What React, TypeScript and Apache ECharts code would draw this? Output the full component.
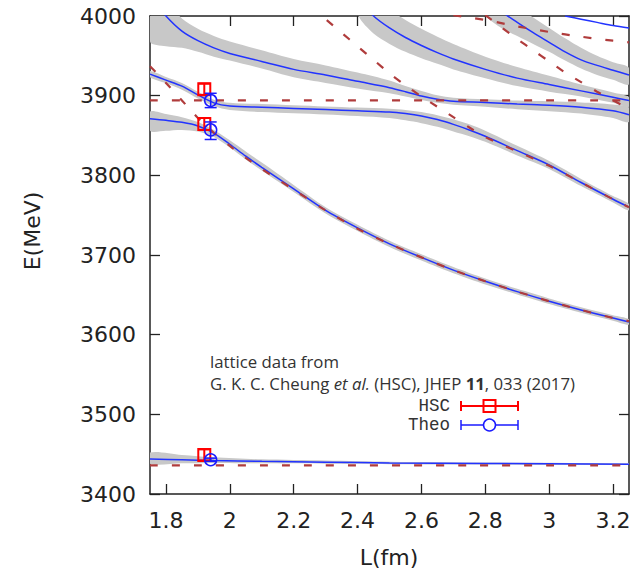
import React, { useEffect, useRef } from 'react';
import * as echarts from 'echarts';

// ---------- data (L in fm, E in MeV) ----------
const xTicks = [1.8, 2.0, 2.2, 2.4, 2.6, 2.8, 3.0, 3.2];

// interacting levels: [L, E, bandLow, bandHigh]
const levelG = [
  [1.75, 3444, 3438, 3452], [1.85, 3443, 3438.5, 3449], [1.95, 3442, 3439, 3446],
  [2.1, 3441, 3438.5, 3443.5], [2.3, 3440, 3438, 3442], [2.5, 3439, 3437.5, 3440.5],
  [2.8, 3438.3, 3437, 3439.5], [3.25, 3437.5, 3436.5, 3438.5],
];
const levelB = [
  [1.75, 3871, 3856, 3880], [1.8, 3869, 3856, 3877], [1.85, 3866.5, 3857, 3873],
  [1.9, 3862, 3855, 3867], [1.95, 3853, 3848, 3857], [2.0, 3839, 3835, 3844],
  [2.05, 3824, 3820, 3830], [2.1, 3810, 3806, 3816], [2.2, 3783, 3779, 3788],
  [2.3, 3756, 3752, 3760], [2.4, 3734, 3730, 3738], [2.5, 3714, 3710, 3718],
  [2.6, 3697, 3693, 3701], [2.7, 3681, 3677, 3685], [2.8, 3667, 3663, 3670.5],
  [2.9, 3654, 3650.5, 3657.5], [3.0, 3642, 3638.5, 3645.5], [3.1, 3631, 3627.5, 3634.5],
  [3.2, 3621, 3617.5, 3624.5], [3.25, 3616, 3612.5, 3619.5],
];
const levelA = [
  [1.75, 3927, 3923, 3931], [1.8, 3919.5, 3915.5, 3923.5], [1.85, 3912, 3907.5, 3916],
  [1.9, 3901, 3896.5, 3905], [1.95, 3891, 3887, 3895], [2.0, 3887, 3882, 3891],
  [2.1, 3885.5, 3879.5, 3889.5], [2.2, 3884, 3878, 3888], [2.3, 3882.5, 3876.5, 3886.5],
  [2.4, 3881, 3874.5, 3885], [2.5, 3879.5, 3872, 3883.5], [2.55, 3877.5, 3869, 3882],
  [2.6, 3874.5, 3865.5, 3879.5], [2.65, 3870, 3861, 3875.5], [2.7, 3864, 3855, 3870.5],
  [2.75, 3857, 3849, 3864], [2.8, 3849, 3842, 3856], [2.9, 3831, 3825, 3837],
  [3.0, 3813, 3808, 3818], [3.1, 3791, 3786.5, 3795.5], [3.2, 3770, 3766, 3774],
  [3.25, 3760, 3756, 3764],
];
const levelC = [
  [1.75, 4025, 3968, 4045], [1.8, 4000, 3962, 4020], [1.85, 3981, 3960, 3997],
  [1.9, 3969, 3955, 3984], [1.95, 3960, 3949, 3975], [2.0, 3953, 3944, 3968],
  [2.1, 3943, 3934, 3957], [2.2, 3933, 3923, 3946], [2.3, 3926, 3916, 3938],
  [2.4, 3918, 3909, 3929], [2.5, 3910, 3903, 3919], [2.55, 3905, 3899, 3912],
  [2.6, 3899.5, 3894.5, 3906], [2.65, 3895.5, 3891, 3900.5], [2.7, 3893, 3888.5, 3897.5],
  [2.8, 3891.5, 3886, 3895.5], [2.9, 3889.5, 3883, 3894], [3.0, 3888, 3880.5, 3893],
  [3.1, 3885.5, 3877.5, 3891.5], [3.2, 3881, 3872, 3889], [3.25, 3876, 3867, 3885],
];
const levelD = [
  [2.4, 4022, 4003, 4050], [2.45, 4000, 3978, 4024], [2.5, 3985, 3965, 4008],
  [2.55, 3973, 3955, 3995], [2.6, 3963, 3947, 3984], [2.65, 3954, 3940, 3974],
  [2.7, 3946, 3933, 3965], [2.8, 3933, 3922, 3949], [2.9, 3922, 3912, 3936],
  [3.0, 3914, 3905, 3925], [3.1, 3906, 3899, 3914], [3.2, 3898, 3891, 3904],
  [3.25, 3894, 3886, 3898],
];
const levelE = [
  [2.8, 4025, 4003, 4055], [2.85, 4006, 3985, 4030], [2.9, 3992, 3975, 4012],
  [2.95, 3979, 3965, 3998], [3.0, 3967, 3955, 3985], [3.05, 3955, 3944, 3972],
  [3.1, 3945, 3934, 3960], [3.15, 3938, 3926, 3950], [3.2, 3932, 3920, 3942],
  [3.25, 3926, 3914, 3935],
];
const levelF = [
  [3.05, 4000], [3.1, 3996], [3.15, 3992], [3.2, 3988], [3.25, 3985],
];

// non-interacting levels (dashed): [L, E]
const free1 = [
  [1.75, 3937], [1.8, 3916], [1.85, 3894], [1.9, 3872], [1.95, 3853.5], [2.0, 3837],
  [2.05, 3822], [2.1, 3808], [2.2, 3782], [2.3, 3756], [2.4, 3733], [2.5, 3714],
  [2.6, 3697], [2.7, 3681], [2.8, 3667], [2.9, 3654], [3.0, 3642], [3.1, 3631],
  [3.2, 3621], [3.25, 3617],
];
const free2 = [
  [2.25, 4012], [2.3, 3996], [2.35, 3979], [2.4, 3962], [2.45, 3945], [2.5, 3928],
  [2.55, 3913], [2.6, 3899], [2.65, 3886], [2.7, 3873], [2.75, 3860], [2.8, 3848],
  [2.9, 3830], [3.0, 3812], [3.1, 3791], [3.2, 3770], [3.25, 3760],
];
const free3 = [
  [2.7, 4001], [2.8, 3995], [2.9, 3987], [3.0, 3980], [3.1, 3974], [3.2, 3969], [3.25, 3967],
];
const free4 = [
  [2.8, 4001], [2.85, 3986], [2.9, 3971], [2.95, 3957], [3.0, 3943], [3.05, 3929],
  [3.1, 3917], [3.15, 3905], [3.2, 3894], [3.25, 3884],
];
const bareHigh = [[1.75, 3894], [3.25, 3894]];
const bareLow = [[1.75, 3436], [3.25, 3436]];

// lattice points: [L, E, low, high]
const hscPoints = [[1.92, 3908, 3901, 3915], [1.92, 3864.5, 3857, 3872], [1.92, 3449, 3442, 3456]];
const theoPoints = [[1.94, 3894, 3885, 3903], [1.94, 3857, 3845, 3867], [1.94, 3443, 3441, 3445]];

// legend labels
const legendNames = ['HSC', 'Theo'];

// ---------- styles ----------
const BLUE = '#2233ff';
const RED_DASH = '#b03c3c';
const GRAY = '#c8c8c8';
const AXIS = '#222';
const TXT = '#333';
const FONT = 'DejaVu Sans';
const NOTE_FONT = '"Open Sans", "DejaVu Sans", sans-serif';
const NOTE_SIZE = 16.8;

function band(pts: number[][]) {
  return {
    type: 'custom',
    clip: true,
    silent: true,
    z: 1,
    data: pts,
    encode: { x: 0, y: 1 },
    renderItem: (params: any, api: any) => {
      if (params.dataIndex !== 0) return null;
      const upper = pts.map((p) => api.coord([p[0], p[3]]));
      const lower = pts.map((p) => api.coord([p[0], p[2]])).reverse();
      return {
        type: 'polygon',
        shape: { points: upper.concat(lower), smooth: 0.3 },
        style: { fill: GRAY, stroke: 'none' },
      };
    },
  };
}

function solid(pts: number[][]) {
  return {
    type: 'line',
    data: pts.map((p) => [p[0], p[1]]),
    smooth: 0.3,
    showSymbol: false,
    symbol: 'none',
    silent: true,
    z: 2,
    lineStyle: { color: BLUE, width: 1.5 },
  };
}

function dashed(pts: number[][]) {
  return {
    type: 'line',
    data: pts,
    smooth: 0.3,
    showSymbol: false,
    symbol: 'none',
    silent: true,
    z: 3,
    lineStyle: { color: RED_DASH, width: 2.2, type: [8, 14] },
  };
}

function points(pts: number[][], kind: 'square' | 'circle') {
  const color = kind === 'square' ? '#ff0000' : '#1a1aff';
  const lw = kind === 'square' ? 2 : 1.5;
  return {
    type: 'custom',
    clip: true,
    silent: true,
    z: 5,
    data: pts,
    encode: { x: 0, y: 1 },
    renderItem: (params: any, api: any) => {
      const L = api.value(0);
      const c = api.coord([L, api.value(1)]);
      const lo = api.coord([L, api.value(2)]);
      const hi = api.coord([L, api.value(3)]);
      const st = { stroke: color, lineWidth: lw, fill: 'none' };
      const children: any[] = [
        { type: 'line', shape: { x1: c[0], y1: lo[1], x2: c[0], y2: hi[1] }, style: st },
        { type: 'line', shape: { x1: c[0] - 6, y1: lo[1], x2: c[0] + 6, y2: lo[1] }, style: st },
        { type: 'line', shape: { x1: c[0] - 6, y1: hi[1], x2: c[0] + 6, y2: hi[1] }, style: st },
      ];
      if (kind === 'square') {
        children.push({ type: 'rect', shape: { x: c[0] - 6, y: c[1] - 6, width: 12, height: 12 }, style: st });
      } else {
        children.push({ type: 'circle', shape: { cx: c[0], cy: c[1], r: 6 }, style: st });
      }
      return { type: 'group', children };
    },
  };
}

const axisLine = { show: true, onZero: false, lineStyle: { color: AXIS, width: 1.5 } };
const tickStyle = { color: AXIS, width: 1.3 };

const option: any = {
  animation: false,
  backgroundColor: '#fff',
  grid: { left: 150, right: 7, top: 16, bottom: 81, containLabel: false },
  xAxis: [
    {
      type: 'value', position: 'bottom', min: 1.75, max: 3.25,
      axisLine,
      axisTick: { show: true, inside: true, length: 10, lineStyle: tickStyle, customValues: xTicks },
      axisLabel: {
        customValues: xTicks, fontSize: 22, fontFamily: FONT, color: AXIS, margin: 15,
        formatter: (v: number) => String(v),
      },
      splitLine: { show: false },
    },
    {
      type: 'value', position: 'top', min: 1.75, max: 3.25,
      axisLine,
      axisTick: { show: true, inside: true, length: 10, lineStyle: tickStyle, customValues: xTicks },
      axisLabel: { show: false },
      splitLine: { show: false },
    },
  ],
  yAxis: [
    {
      type: 'value', position: 'left', min: 3400, max: 4000, interval: 100,
      axisLine,
      axisTick: { show: true, inside: true, length: 10, lineStyle: tickStyle },
      axisLabel: {
        fontSize: 22, fontFamily: FONT, color: AXIS, margin: 14, showMinLabel: true, showMaxLabel: true,
        formatter: (v: number) => String(v),
      },
      splitLine: { show: false },
    },
    {
      type: 'value', position: 'right', min: 3400, max: 4000, interval: 100,
      axisLine,
      axisTick: { show: true, inside: true, length: 10, lineStyle: tickStyle },
      axisLabel: { show: false },
      splitLine: { show: false },
    },
  ],
  series: [
    band(levelG), band(levelB), band(levelA), band(levelC), band(levelD), band(levelE),
    solid(levelG), solid(levelB), solid(levelA), solid(levelC), solid(levelD), solid(levelE), solid(levelF),
    dashed(free1), dashed(free2), dashed(free3), dashed(free4), dashed(bareHigh), dashed(bareLow),
    points(hscPoints, 'square'), points(theoPoints, 'circle'),
  ],
  graphic: [
    {
      type: 'text', x: 32, y: 231, rotation: Math.PI / 2,
      style: { text: 'E(MeV)', fontSize: 22, fontFamily: FONT, fill: AXIS, align: 'center', verticalAlign: 'middle' },
    },
    {
      type: 'text', x: 389, y: 557,
      style: { text: 'L(fm)', fontSize: 22, fontFamily: FONT, fill: AXIS, align: 'center', verticalAlign: 'middle' },
    },
    {
      type: 'text', x: 210, y: 361, z: 10,
      style: { text: 'lattice data from', fontSize: NOTE_SIZE, fontFamily: NOTE_FONT, fill: TXT, align: 'left', verticalAlign: 'middle' },
    },
    {
      type: 'text', x: 210, y: 383, z: 10,
      style: {
        text: 'G. K. C. Cheung {i|et al.} (HSC), JHEP {b|11}, 033 (2017)',
        fontSize: NOTE_SIZE, fontFamily: NOTE_FONT, fill: TXT, align: 'left', verticalAlign: 'middle',
        rich: {
          i: { fontSize: NOTE_SIZE, fontFamily: NOTE_FONT, fontStyle: 'italic', fill: TXT },
          b: { fontSize: NOTE_SIZE, fontFamily: NOTE_FONT, fontWeight: 'bold', fill: TXT },
        },
      },
    },
    // legend
    {
      type: 'text', x: 450, y: 406, z: 10,
      style: { text: legendNames[0], font: '17.5px Liberation Mono', fill: TXT, align: 'right', verticalAlign: 'middle' },
    },
    { type: 'line', z: 10, shape: { x1: 461, y1: 406, x2: 518, y2: 406 }, style: { stroke: '#ff0000', lineWidth: 2 } },
    { type: 'line', z: 10, shape: { x1: 461, y1: 401, x2: 461, y2: 411 }, style: { stroke: '#ff0000', lineWidth: 2 } },
    { type: 'line', z: 10, shape: { x1: 518, y1: 401, x2: 518, y2: 411 }, style: { stroke: '#ff0000', lineWidth: 2 } },
    { type: 'rect', z: 11, shape: { x: 483.5, y: 400, width: 12, height: 12 }, style: { stroke: '#ff0000', lineWidth: 2, fill: 'none' } },
    {
      type: 'text', x: 450, y: 425, z: 10,
      style: { text: legendNames[1], font: '17.5px Liberation Mono', fill: TXT, align: 'right', verticalAlign: 'middle' },
    },
    { type: 'line', z: 10, shape: { x1: 461, y1: 425, x2: 518, y2: 425 }, style: { stroke: '#1a1aff', lineWidth: 1.5 } },
    { type: 'line', z: 10, shape: { x1: 461, y1: 420, x2: 461, y2: 430 }, style: { stroke: '#1a1aff', lineWidth: 1.5 } },
    { type: 'line', z: 10, shape: { x1: 518, y1: 420, x2: 518, y2: 430 }, style: { stroke: '#1a1aff', lineWidth: 1.5 } },
    { type: 'circle', z: 11, shape: { cx: 489.5, cy: 425, r: 6 }, style: { stroke: '#1a1aff', lineWidth: 1.5, fill: '#fff' } },
  ],
};

export default function App() {
  const ref = useRef<HTMLDivElement>(null);
  useEffect(() => {
    document.body.style.margin = '0';
    if (!ref.current) return;
    const chart = echarts.init(ref.current, null, { renderer: 'svg' });
    chart.setOption(option);
    return () => chart.dispose();
  }, []);
  return <div ref={ref} style={{ width: 636, height: 575 }} />;
}
